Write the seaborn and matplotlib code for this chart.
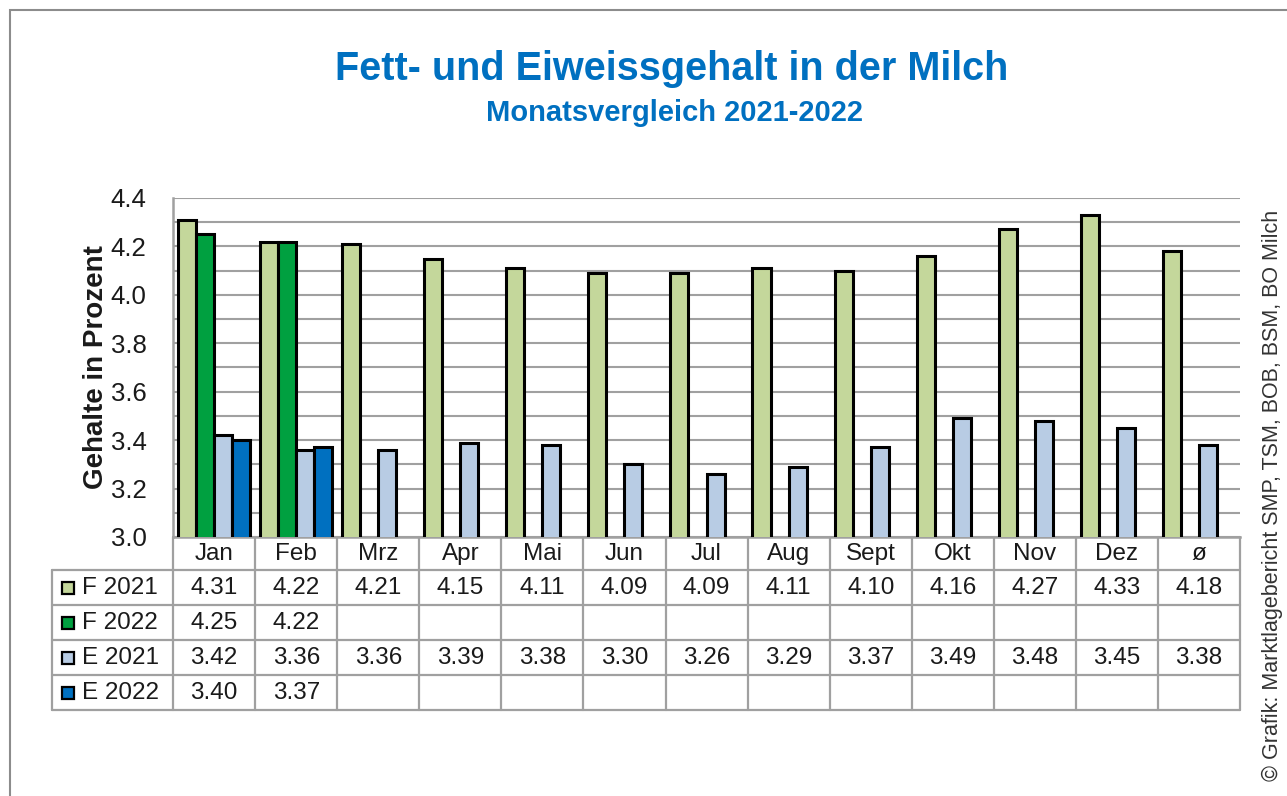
import numpy as np
import pandas as pd
import matplotlib
matplotlib.use("Agg")
import matplotlib.pyplot as plt
from matplotlib.ticker import MultipleLocator
from matplotlib.patches import Rectangle
import seaborn as sns

# data
months = ["Jan", "Feb", "Mrz", "Apr", "Mai", "Jun", "Jul", "Aug", "Sept", "Okt", "Nov", "Dez", "ø"]
series = ["F 2021", "F 2022", "E 2021", "E 2022"]
fett_2021 = [4.31, 4.22, 4.21, 4.15, 4.11, 4.09, 4.09, 4.11, 4.10, 4.16, 4.27, 4.33, 4.18]
fett_2022 = [4.25, 4.22]
eiweiss_2021 = [3.42, 3.36, 3.36, 3.39, 3.38, 3.30, 3.26, 3.29, 3.37, 3.49, 3.48, 3.45, 3.38]
eiweiss_2022 = [3.40, 3.37]
colors = ["#C4D79B", "#00A040", "#B8CCE4", "#0070C0"]

values = [fett_2021, fett_2022, eiweiss_2021, eiweiss_2022]
rows = []
for name, vals in zip(series, values):
    for i, m in enumerate(months):
        v = vals[i] if i < len(vals) else np.nan
        rows.append({"Monat": m, "Reihe": name, "Wert": v})
df = pd.DataFrame(rows)

sns.set_style("white")
plt.rcParams["font.family"] = ["Liberation Sans", "DejaVu Sans"]

W, H = 1287, 796
fig = plt.figure(figsize=(W / 100, H / 100), dpi=100)

def fx(px):
    return px / W

def fy(py):
    return 1 - py / H

grid_col = "#a0a0a0"
text_col = "#1a1a1a"
fs_tab = 17.5

# outer frame
fig.add_artist(Rectangle((fx(10), fy(830)), fx(1320), fy(10) - fy(830),
                         transform=fig.transFigure, fill=False,
                         edgecolor="#8c8c8c", linewidth=1.5))

# main bar axes
ax = fig.add_axes([fx(173), fy(537), fx(1240) - fx(173), fy(198) - fy(537)])
sns.barplot(data=df, x="Monat", y="Wert", hue="Reihe", order=months,
            hue_order=series, palette=colors, saturation=1, width=0.88,
            edgecolor="black", linewidth=2.2, legend=False, ax=ax, zorder=3)
ax.set_xlim(-0.5, len(months) - 0.5)
ax.set_ylim(3.0, 4.4)
ax.yaxis.set_major_locator(MultipleLocator(0.2))
ax.yaxis.set_minor_locator(MultipleLocator(0.1))
ax.set_yticklabels([f"{t:.1f}" for t in ax.get_yticks()])
ax.grid(True, which="both", axis="y", color=grid_col, linewidth=1.5, zorder=0)
ax.set_axisbelow(True)
ax.set_xticks(np.arange(-0.5, len(months), 1.0))
ax.set_xticklabels([])
ax.tick_params(axis="x", length=5, color=grid_col, width=1.5)
ax.tick_params(axis="y", which="major", length=6, color=grid_col, width=1.5,
               labelsize=18.5, labelcolor=text_col, pad=13)
ax.tick_params(axis="y", which="minor", length=0)
for s in ["top", "right"]:
    ax.spines[s].set_visible(False)
for s in ["left", "bottom"]:
    ax.spines[s].set_color(grid_col)
    ax.spines[s].set_linewidth(1.8)
ax.set_xlabel("")
ax.set_ylabel("Gehalte in Prozent", fontsize=20, fontweight="bold",
              color=text_col, labelpad=1)

# data table below the axes, y in pixel units
tab = fig.add_axes([fx(52), fy(710), fx(1240) - fx(52), fy(537) - fy(710)])
label_w = (173 - 52) / 82.0
tab.set_xlim(-0.5 - label_w, len(months) - 0.5)
tab.set_ylim(710, 537)
tab.axis("off")

row_edges = [570, 605, 640, 675, 710]
for i in range(len(months) + 1):
    tab.plot([i - 0.5, i - 0.5], [537, 710], color=grid_col, lw=1.6, clip_on=False)
tab.plot([-0.5 - label_w] * 2, [570, 710], color=grid_col, lw=1.6, clip_on=False)
for y in row_edges:
    tab.plot([-0.5 - label_w, len(months) - 0.5], [y, y], color=grid_col,
             lw=1.6, clip_on=False)

for i, m in enumerate(months):
    tab.text(i, 554, m, ha="center", va="center", fontsize=fs_tab, color=text_col)

px_per_cat = 82.0
for r, (name, vals, c) in enumerate(zip(series, values, colors)):
    yc = (row_edges[r] + row_edges[r + 1]) / 2
    sx = -0.5 - label_w + 10 / px_per_cat
    tab.add_patch(Rectangle((sx, yc - 6), 12 / px_per_cat, 12, facecolor=c,
                            edgecolor="black", linewidth=1.6, clip_on=False))
    tab.text(sx + 20 / px_per_cat, yc, name, ha="left", va="center",
             fontsize=fs_tab, color=text_col)
    for i, v in enumerate(vals):
        tab.text(i, yc, f"{v:.2f}", ha="center", va="center", fontsize=fs_tab,
                 color=text_col)

# titles
fig.text(fx(672), fy(69), "Fett- und Eiweissgehalt in der Milch", ha="center",
         va="center", fontsize=28.5, fontweight="bold", color="#0070C0")
fig.text(fx(674), fy(113), "Monatsvergleich 2021-2022", ha="center",
         va="center", fontsize=21, fontweight="bold", color="#0070C0")

# source note
fig.text(fx(1272), fy(495), "© Grafik: Marktlagebericht SMP, TSM, BOB, BSM, BO Milch",
         rotation=90, ha="center", va="center", fontsize=15.5, color="#333333")

fig.savefig("out.png", dpi=100)
